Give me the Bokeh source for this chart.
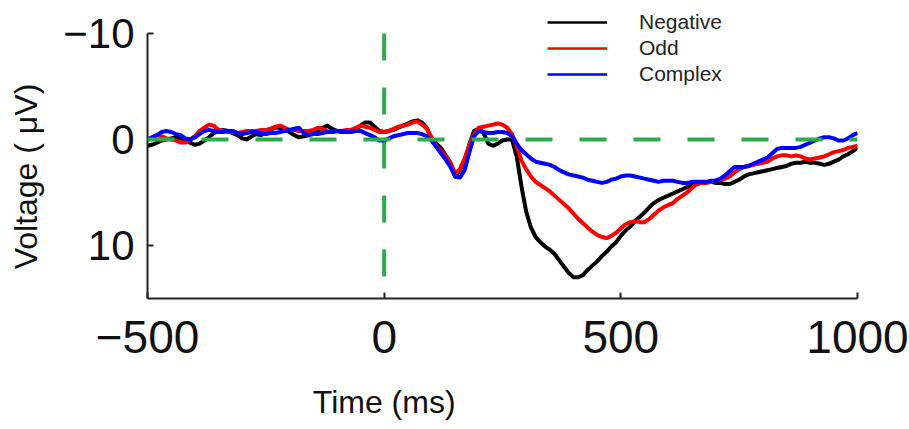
from bokeh.plotting import figure
from bokeh.models import (Range1d, Legend, LegendItem, Span, FixedTicker, ColumnDataSource,
                          LinearAxis)
from bokeh.embed import file_html
from bokeh.resources import INLINE

# ---- data ----
time_ms = list(range(-500, 1001, 10))

negative = [
    0.6, 0.5, 0.3, 0.1, 0.0, -0.1, -0.2, -0.1, 0.1, 0.3,
    0.5, 0.4, 0.1, -0.2, -0.6, -0.8, -0.9, -0.8, -0.6, -0.4,
    -0.1, 0.0, -0.3, -0.5, -0.4, -0.7, -0.9, -1.1, -1.1, -0.9,
    -0.7, -0.4, -0.2, -0.3, -0.4, -0.6, -0.8, -1.1, -1.3, -1.0,
    -0.8, -0.7, -0.7, -0.8, -0.9, -1.3, -1.6, -1.6, -1.2, -0.8,
    -0.7, -0.8, -0.9, -1.1, -1.3, -1.5, -1.7, -1.8, -1.6, -1.1,
    -0.1, 0.4, 0.8, 1.5, 2.2, 3.5, 2.9, 2.0, 0.5, -0.8,
    -1.0, -0.6, 0.4, 0.6, 0.4, 0.1, 0.0, 0.0, 1.6, 4.4,
    6.8, 8.3, 9.2, 9.7, 10.1, 10.4, 10.8, 11.4, 12.0, 12.6,
    13.0, 13.0, 12.8, 12.3, 11.9, 11.5, 11.0, 10.6, 10.1, 9.7,
    9.1, 8.6, 8.2, 7.7, 7.3, 6.9, 6.4, 6.0, 5.7, 5.5,
    5.3, 5.1, 4.9, 4.7, 4.5, 4.3, 4.2, 4.1, 4.1, 4.0,
    4.1, 4.1, 4.2, 4.2, 4.0, 3.8, 3.5, 3.3, 3.2, 3.1,
    3.0, 2.9, 2.8, 2.7, 2.6, 2.5, 2.3, 2.2, 2.2, 2.1,
    2.2, 2.2, 2.3, 2.4, 2.3, 2.1, 1.9, 1.6, 1.4, 1.1,
    0.8,
]

odd = [
    0.0, -0.2, -0.4, -0.3, -0.1, 0.0, 0.1, 0.3, 0.3, 0.0,
    -0.3, -0.8, -1.1, -1.4, -1.3, -0.9, -0.8, -0.7, -0.7, -0.6,
    -0.7, -0.8, -0.8, -0.8, -0.9, -0.9, -1.0, -1.2, -1.3, -1.1,
    -0.9, -0.9, -0.8, -0.8, -0.8, -0.9, -1.1, -1.0, -0.8, -0.7,
    -0.8, -0.8, -0.9, -0.9, -1.1, -1.3, -1.2, -1.1, -0.9, -0.7,
    -0.7, -0.8, -1.0, -1.2, -1.3, -1.4, -1.6, -1.7, -1.4, -1.0,
    -0.2, 0.6, 1.1, 1.6, 2.2, 3.2, 2.8, 1.8, 0.5, -0.5,
    -1.1, -1.2, -1.3, -1.4, -1.5, -1.4, -1.1, -0.5, 0.6, 2.0,
    2.8, 3.5, 4.0, 4.3, 4.6, 4.9, 5.3, 5.7, 6.1, 6.5,
    7.0, 7.5, 7.9, 8.3, 8.7, 9.0, 9.2, 9.3, 9.1, 8.8,
    8.4, 8.0, 7.8, 7.7, 7.8, 7.8, 7.5, 7.1, 6.7, 6.4,
    6.2, 6.0, 5.6, 5.3, 5.0, 4.6, 4.2, 4.1, 4.1, 4.0,
    3.9, 3.8, 3.7, 3.5, 3.1, 2.8, 2.6, 2.5, 2.4, 2.3,
    2.2, 2.1, 1.8, 1.6, 1.5, 1.5, 1.6, 1.5, 1.6, 1.8,
    1.9, 1.8, 1.7, 1.6, 1.4, 1.2, 1.1, 1.0, 0.8, 0.7,
    0.6,
]

complex_ = [
    0.0, -0.2, -0.4, -0.7, -0.8, -0.7, -0.5, -0.4, -0.1, 0.0,
    -0.2, -0.5, -0.8, -0.9, -0.8, -0.7, -0.7, -0.8, -0.8, -0.6,
    -0.5, -0.6, -0.7, -0.7, -0.6, -0.5, -0.6, -0.6, -0.7, -0.8,
    -0.9, -1.0, -1.1, -0.6, -0.4, -0.5, -0.5, -0.6, -0.7, -0.7,
    -0.8, -0.8, -0.7, -0.7, -0.8, -0.8, -0.6, -0.4, -0.2, 0.1,
    0.1, -0.1, -0.3, -0.4, -0.5, -0.6, -0.6, -0.6, -0.5, -0.3,
    0.1, 0.7, 1.3, 1.9, 2.6, 3.5, 3.6, 2.9, 1.2, -0.3,
    -0.8, -0.7, -0.6, -0.6, -0.7, -0.7, -0.6, -0.3, 0.4, 1.0,
    1.4, 1.8, 2.1, 2.2, 2.3, 2.4, 2.6, 2.9, 3.1, 3.3,
    3.4, 3.5, 3.6, 3.8, 3.9, 4.0, 4.1, 4.0, 3.8, 3.7,
    3.5, 3.4, 3.4, 3.5, 3.6, 3.7, 3.8, 3.9, 4.0, 3.9,
    3.9, 3.9, 4.0, 4.1, 4.1, 4.0, 4.0, 4.0, 4.0, 3.9,
    3.9, 3.7, 3.4, 3.0, 2.6, 2.6, 2.6, 2.5, 2.3, 2.1,
    1.9, 1.7, 1.3, 0.9, 0.8, 0.8, 0.8, 0.8, 0.7, 0.5,
    0.3, 0.1, -0.1, -0.2, -0.2, -0.1, 0.1, 0.1, -0.1, -0.4,
    -0.6,
]

series_names = ["Negative", "Odd", "Complex"]
series_colors = ["#000000", "#ff0000", "#0000ff"]

x_ticks = [-500, 0, 500, 1000]
x_tick_labels = ["\u2212500", "0", "500", "1000"]
y_ticks = [-10, 0, 10]
y_tick_labels = ["\u221210", "0", "10"]
x_limits = (-500, 1000)
y_axis_limits = (15, -10)      # inverted axis: negative up
y_view_top = -13.1             # extra head-room above the axis for the legend
ref_time = 0
ref_voltage = 0
x_title, x_title_at = "Time (ms)", 0            # x title sits centred under 0 ms
y_title, y_title_at = "Voltage ( \u03bcV)", 3.5  # y title centre, in axis units

assert len(time_ms) == len(negative) == len(odd) == len(complex_)

FONT = "Liberation Sans"
INK = "#111111"

p = figure(width=909, height=429,
           x_range=Range1d(*x_limits), y_range=Range1d(y_axis_limits[0], y_view_top),
           output_backend="svg", toolbar_location=None,
           min_border_left=147, min_border_right=52,
           min_border_top=0, min_border_bottom=131)
p.outline_line_color = None
p.xgrid.visible = False
p.ygrid.visible = False
p.background_fill_color = "white"
p.border_fill_color = "white"

green = "#2fa84f"
p.add_layout(Span(location=ref_voltage, dimension="width", line_color=green,
                  line_width=4, line_dash="27 27"))
p.line(x=[ref_time, ref_time], y=[y_axis_limits[1], y_axis_limits[0]],
       line_color=green, line_width=4, line_dash="27 27")

legend_items = []
for name, vals, col in zip(series_names, [negative, odd, complex_], series_colors):
    src = ColumnDataSource(dict(t=time_ms, v=vals))
    # thin copy (hidden under the main line) used as the legend swatch
    thin = p.line("t", "v", source=src, line_color=col, line_width=2.5)
    legend_items.append(LegendItem(label=name, renderers=[thin]))

for vals, col in zip([negative, odd, complex_], series_colors):
    src = ColumnDataSource(dict(t=time_ms, v=vals))
    p.line("t", "v", source=src, line_color=col, line_width=4, line_join="round")

legend = Legend(items=legend_items, location=(400, 211), orientation="vertical",
                glyph_width=60, glyph_height=26, label_height=26, label_standoff=32,
                spacing=0, padding=0, margin=0, border_line_color=None,
                background_fill_alpha=0, label_text_font_size="21px",
                label_text_font=FONT, label_text_color="#222222")
p.add_layout(legend)

for ax in (p.xaxis, p.yaxis):
    ax.axis_line_width = 2
    ax.axis_line_color = "#222222"
    ax.major_tick_line_width = 2
    ax.major_tick_line_color = "#222222"
    ax.major_tick_in = 6
    ax.major_tick_out = 0
    ax.minor_tick_line_color = None
    ax.major_label_text_font = FONT
    ax.major_label_text_color = INK

p.xaxis.ticker = FixedTicker(ticks=x_ticks)
p.xaxis.major_label_overrides = {t: s for t, s in zip(x_ticks, x_tick_labels)}
p.xaxis.major_label_text_font_size = "46px"
p.xaxis.major_label_standoff = 22

p.yaxis.ticker = FixedTicker(ticks=y_ticks)
p.yaxis.bounds = (y_axis_limits[1], y_axis_limits[0])
p.yaxis.major_label_overrides = {t: s for t, s in zip(y_ticks, y_tick_labels)}
p.yaxis.major_label_text_font_size = "42px"
p.yaxis.major_label_standoff = 13

# label-only axes (no line, no ticks) that carry the axis titles at their reference positions
xlab_axis = LinearAxis(ticker=FixedTicker(ticks=[x_title_at]),
                       major_label_overrides={x_title_at: x_title},
                       axis_line_color=None, major_tick_line_color=None,
                       minor_tick_line_color=None, major_tick_in=0, major_tick_out=0,
                       major_label_standoff=28,
                       major_label_text_font=FONT, major_label_text_font_size="32px",
                       major_label_text_color=INK)
p.add_layout(xlab_axis, "below")

ylab_axis = LinearAxis(ticker=FixedTicker(ticks=[y_title_at]),
                       major_label_overrides={y_title_at: y_title},
                       major_label_orientation="vertical",
                       axis_line_color=None, major_tick_line_color=None,
                       minor_tick_line_color=None, major_tick_in=0, major_tick_out=0,
                       major_label_standoff=16,
                       major_label_text_font=FONT, major_label_text_font_size="32px",
                       major_label_text_color=INK)
p.add_layout(ylab_axis, "left")

open("out.html", "w").write(file_html(p, INLINE))
